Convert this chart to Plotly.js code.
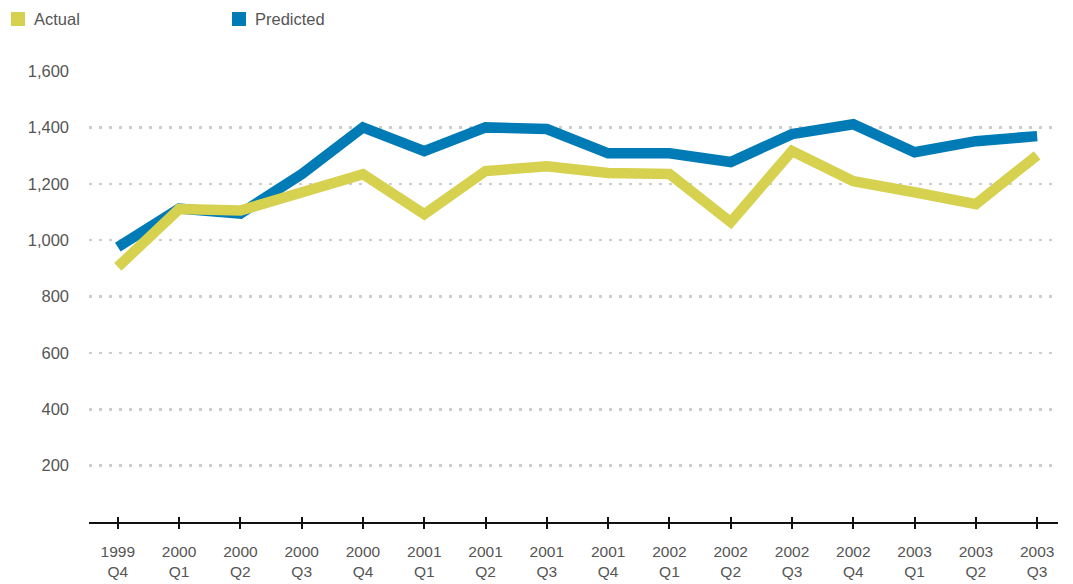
<!DOCTYPE html>
<html>
<head>
<meta charset="utf-8">
<script src="https://cdn.plot.ly/plotly-3.0.1.min.js"></script>
<style>html,body{margin:0;padding:0;background:#fff;}#chart{width:1073px;height:584px;}</style>
</head>
<body>
<div id="chart"></div>
<script>
const quarters = ["1999<br>Q4","2000<br>Q1","2000<br>Q2","2000<br>Q3","2000<br>Q4","2001<br>Q1","2001<br>Q2","2001<br>Q3","2001<br>Q4","2002<br>Q1","2002<br>Q2","2002<br>Q3","2002<br>Q4","2003<br>Q1","2003<br>Q2","2003<br>Q3"];
const actual = [905, 1110, 1105, 1170, 1234, 1092, 1245, 1262, 1238, 1235, 1064, 1316, 1209, 1170, 1128, 1301];
const predicted = [975, 1112, 1094, 1234, 1400, 1316, 1400, 1394, 1308, 1308, 1277, 1376, 1411, 1312, 1351, 1369];
const seriesNames = ["Actual", "Predicted"];
const yTicks = [200, 400, 600, 800, 1000, 1200, 1400, 1600];
const yTickText = ["200", "400", "600", "800", "1,000", "1,200", "1,400", "1,600"];

const idx = quarters.map((_, i) => i);
const colors = ["#d7d150", "#007bb6"];

const M = {l: 89, r: 15, t: 71, b: 62};
const W = 1073, H = 584;
const pw = W - M.l - M.r, ph = H - M.t - M.b;
const px2x = p => (p - M.l) / pw;
const px2y = p => (H - M.b - p) / ph;

const traces = [
  {x: idx, y: predicted, name: seriesNames[1], type: "scatter", mode: "lines", line: {color: colors[1], width: 10.5}, xaxis: "x", yaxis: "y"},
  {x: idx, y: actual, name: seriesNames[0], type: "scatter", mode: "lines", line: {color: colors[0], width: 10.5}, xaxis: "x", yaxis: "y"},
  {x: idx, y: idx.map(() => null), type: "scatter", mode: "lines", showlegend: false, xaxis: "x2", yaxis: "y"}
];

// legend drawn as squares + text
const legendX = [11, 232];
const shapes = seriesNames.map((n, i) => ({
  type: "rect", xref: "paper", yref: "paper",
  x0: px2x(legendX[i]), x1: px2x(legendX[i] + 14), y0: px2y(26), y1: px2y(12),
  fillcolor: colors[i], line: {width: 0}
}));
const annotations = seriesNames.map((n, i) => ({
  text: n, xref: "paper", yref: "paper", x: px2x(legendX[i] + 21), y: px2y(19),
  xanchor: "left", yanchor: "middle", showarrow: false,
  font: {size: 16.5, color: "#555555"}
}));

const fontFam = "'Liberation Sans', Arial, sans-serif";
const layout = {
  width: W, height: H,
  margin: M,
  paper_bgcolor: "#fff", plot_bgcolor: "#fff",
  font: {family: fontFam, size: 16, color: "#555555"},
  showlegend: false,
  shapes: shapes,
  annotations: annotations,
  xaxis: {
    range: [-0.47, 15.34], tickmode: "array", tickvals: idx, ticktext: quarters,
    showgrid: false, zeroline: false, showline: true, linecolor: "#111", linewidth: 2,
    ticks: "outside", ticklen: 5, tickwidth: 2, tickcolor: "#111",
    ticklabelstandoff: 9,
    tickfont: {size: 15.5, color: "#555555"}, fixedrange: true
  },
  xaxis2: {
    overlaying: "x", anchor: "y", side: "bottom", matches: "x",
    range: [-0.47, 15.34], tickmode: "array", tickvals: idx, showticklabels: false,
    showgrid: false, zeroline: false, showline: false,
    ticks: "inside", ticklen: 5, tickwidth: 2, tickcolor: "#111"
  },
  yaxis: {
    range: [0, 1600], tickmode: "array", tickvals: yTicks, ticktext: yTickText,
    showgrid: true, gridcolor: "#cdcdcd", gridwidth: 2.5, griddash: "2.5px,7.5px",
    zeroline: false, showline: false, ticks: "", ticklabelstandoff: 19,
    tickfont: {size: 16.5, color: "#555555"}, fixedrange: true
  }
};

Plotly.newPlot("chart", traces, layout, {displayModeBar: false, staticPlot: true});
</script>
</body>
</html>
